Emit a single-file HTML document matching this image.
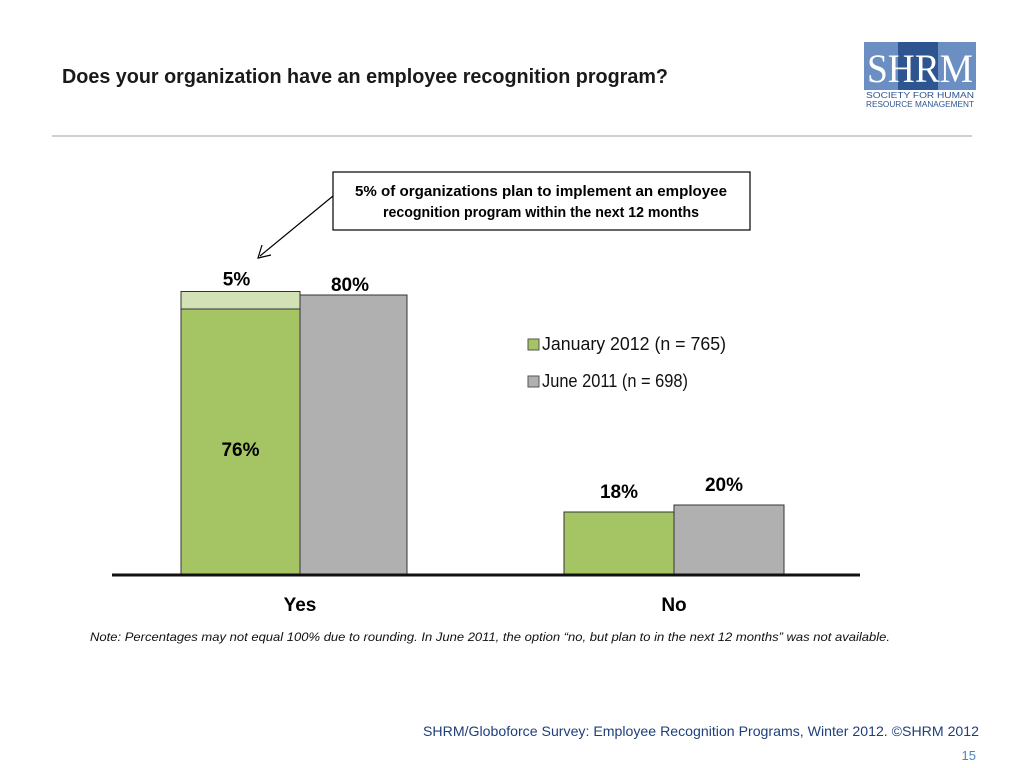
<!DOCTYPE html>
<html><head><meta charset="utf-8"><style>
html,body{margin:0;padding:0;background:#fff;}
svg{display:block;font-family:"Liberation Sans",sans-serif;}
</style></head><body>
<svg width="1024" height="768" viewBox="0 0 1024 768">
<text x="62" y="83" font-size="20" font-weight="bold" fill="#1a1a1a" textLength="606" lengthAdjust="spacingAndGlyphs">Does your organization have an employee recognition program?</text>
<line x1="52" y1="136" x2="972" y2="136" stroke="#bfbfbf" stroke-width="1.5"/>
<g>
<rect x="864" y="42" width="112" height="48" fill="#6b8fc2"/>
<rect x="898" y="42" width="40" height="48" fill="#2e5590"/>
<text x="920" y="82" font-size="40" font-family="Liberation Serif,serif" fill="#fff" text-anchor="middle" textLength="106" lengthAdjust="spacingAndGlyphs">SHRM</text>
<text x="866" y="98" font-size="8" fill="#2e5590" textLength="108" lengthAdjust="spacingAndGlyphs">SOCIETY FOR HUMAN</text>
<text x="866" y="107" font-size="8" fill="#2e5590" textLength="108" lengthAdjust="spacingAndGlyphs">RESOURCE MANAGEMENT</text>
</g>
<g>
<rect x="333" y="172" width="417" height="58" fill="#fff" stroke="#000" stroke-width="1.2"/>
<text x="541" y="196" font-size="15" font-weight="bold" text-anchor="middle" textLength="372" lengthAdjust="spacingAndGlyphs">5% of organizations plan to implement an employee</text>
<text x="541" y="217" font-size="15" font-weight="bold" text-anchor="middle" textLength="316" lengthAdjust="spacingAndGlyphs">recognition program within the next 12  months</text>
</g>
<g>
<line x1="333" y1="196" x2="260" y2="256" stroke="#000" stroke-width="1.2"/>
<polyline points="262,245 258,258 271,255" fill="none" stroke="#000" stroke-width="1.2"/>
</g>
<g id="chart"></g>
<g>
<rect x="528" y="339" width="11" height="11" fill="#a5c463" stroke="#555"/>
<text x="542" y="350" font-size="18" fill="#111" textLength="184" lengthAdjust="spacingAndGlyphs">January 2012 (n = 765)</text>
<rect x="528" y="376" width="11" height="11" fill="#b0b0b0" stroke="#555"/>
<text x="542" y="387" font-size="18" fill="#111" textLength="146" lengthAdjust="spacingAndGlyphs">June 2011 (n = 698)</text>
</g>
<text x="90" y="641" font-size="12" font-style="italic" fill="#111" textLength="800" lengthAdjust="spacingAndGlyphs">Note: Percentages may not equal 100% due to rounding. In June 2011, the  option “no, but plan to in the next 12 months” was not available.</text>
<text x="979" y="736" font-size="14" fill="#1f3f7a" text-anchor="end" textLength="556" lengthAdjust="spacingAndGlyphs">SHRM/Globoforce Survey: Employee Recognition Programs, Winter 2012. ©SHRM 2012</text>
<text x="976" y="760" font-size="13" fill="#4a86c5" text-anchor="end">15</text>
</svg>
<script>
const categories = ["Yes", "No"];
const jan2012 = [76, 18];
const jan2012Plan = [5, 0];
const jun2011 = [80, 20];
const NS = "http://www.w3.org/2000/svg";
const g = document.getElementById('chart');
const baseY = 575, pxPer = 3.5;
const centers = [300, 674];
const bw = 110;
function y(v){ return baseY - v * pxPer; }
function el(tag, attrs){ const e = document.createElementNS(NS, tag); for (const k in attrs) e.setAttribute(k, attrs[k]); g.appendChild(e); return e; }
categories.forEach((c, i) => {
  const cx = centers[i];
  const gw = i === 0 ? 119 : bw;
  let r = el('rect', {x: cx - gw, y: y(jan2012[i]), width: gw, height: jan2012[i] * pxPer, fill: '#a5c463', stroke: '#333', 'stroke-width': 1});
  
  
  if (jan2012Plan[i] > 0) {
    let p = el('rect', {x: cx - gw, y: y(jan2012[i] + jan2012Plan[i]), width: gw, height: jan2012Plan[i] * pxPer, fill: '#d2e2b4', stroke: '#333', 'stroke-width': 1});
    
    
    let pt = el('text', {x: cx - gw / 2 - 4, y: y(jan2012[i] + jan2012Plan[i]) - 6, 'font-size': 19, 'font-weight': 'bold', 'text-anchor': 'middle'});
    pt.textContent = jan2012Plan[i] + '%';
    
    
  }
  let r2 = el('rect', {x: cx, y: y(jun2011[i]), width: i === 0 ? 107 : bw, height: jun2011[i] * pxPer, fill: '#b0b0b0', stroke: '#333', 'stroke-width': 1});
  
  
  const big = jan2012[i] > 50;
  let t1 = el('text', {x: cx - gw / 2, y: big ? y(jan2012[i] / 2) + 14 : y(jan2012[i]) - 14, 'font-size': 19, 'font-weight': 'bold', 'text-anchor': 'middle'});
  t1.textContent = jan2012[i] + '%';
  
  
  let t2 = el('text', {x: cx + bw / 2 - 5, y: y(jun2011[i]) - (big ? 4 : 14), 'font-size': 19, 'font-weight': 'bold', 'text-anchor': 'middle'});
  t2.textContent = jun2011[i] + '%';
  
  
  let cl = el('text', {x: cx, y: 611, 'font-size': 19, 'font-weight': 'bold', 'text-anchor': 'middle'});
  cl.textContent = c;
  
  
});
const ax = el('line', {x1: 112, y1: baseY, x2: 860, y2: baseY, stroke: '#111', 'stroke-width': 3});


</script>
</body></html>
